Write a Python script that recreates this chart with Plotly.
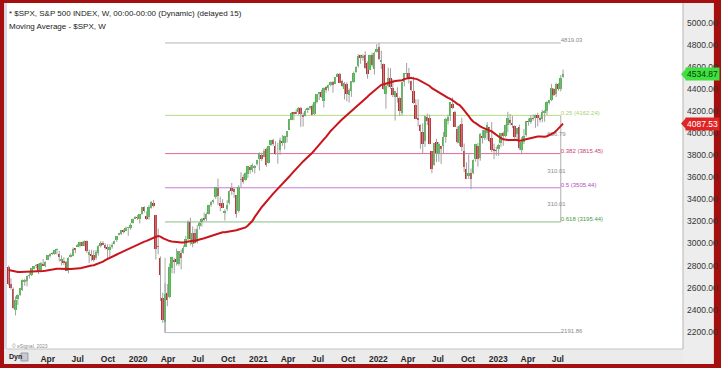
import numpy as np
import pandas as pd
import plotly.graph_objects as go

# ---------------- data (weekly S&P 500) ----------------
# closes before the visible window, used only to seed the 40-week moving average
pre_close = [2691, 2787, 2752, 2588, 2641, 2604, 2656, 2670, 2670, 2663, 2728, 2713, 2721, 2735,
             2779, 2779, 2755, 2718, 2760, 2801, 2802, 2819, 2840, 2833, 2850, 2875, 2902, 2872,
             2905, 2930, 2914, 2886, 2767, 2768, 2659, 2723, 2781, 2736, 2633, 2760]
pre_start = "2018-02-26"
start_week = "2018-12-03"

o_2018 = [2790, 2630, 2591, 2401]
h_2018 = [2800, 2685, 2601, 2520]
l_2018 = [2621, 2583, 2409, 2347]
c_2018 = [2633, 2600, 2417, 2486]

o_2019 = [2498, 2535, 2582, 2655, 2659, 2706, 2712, 2769, 2798, 2814, 2747, 2818, 2797, 2849, 2889, 2908,
          2904, 2941, 2909, 2841, 2841, 2831, 2751, 2885, 2887, 2952, 2971, 2979, 3012, 2981, 3024, 2898,
          2908, 2898, 2866, 2910, 2980, 2996, 2983, 2968, 2944, 2973, 2997, 3031, 3078, 3088, 3123, 3117,
          3143, 3141, 3183, 3227]
h_2019 = [2538, 2598, 2675, 2681, 2709, 2738, 2776, 2794, 2814, 2817, 2831, 2860, 2838, 2893, 2910, 2919,
          2940, 2955, 2932, 2892, 2875, 2841, 2876, 2911, 2964, 2955, 2996, 3017, 3018, 3028, 3028, 2945,
          2944, 2939, 2941, 2985, 3021, 3022, 3002, 2993, 2993, 3008, 3027, 3066, 3097, 3120, 3127, 3154,
          3150, 3183, 3226, 3248]
l_2019 = [2443, 2525, 2570, 2617, 2612, 2681, 2705, 2764, 2775, 2722, 2738, 2800, 2785, 2849, 2873, 2895,
          2898, 2901, 2836, 2801, 2805, 2751, 2729, 2874, 2883, 2912, 2970, 2964, 2975, 2976, 2914, 2822,
          2840, 2835, 2853, 2891, 2964, 2985, 2946, 2856, 2874, 2953, 2992, 3014, 3074, 3078, 3091, 3115,
          3070, 3124, 3180, 3227]
c_2019 = [2532, 2596, 2671, 2665, 2707, 2708, 2776, 2793, 2804, 2743, 2822, 2801, 2834, 2893, 2907, 2905,
          2940, 2946, 2881, 2860, 2826, 2752, 2873, 2887, 2950, 2942, 2990, 3014, 2977, 3026, 2932, 2919,
          2889, 2847, 2926, 2979, 3007, 2992, 2962, 2952, 2970, 2986, 3023, 3067, 3093, 3120, 3110, 3141,
          3146, 3169, 3221, 3240]

o_2020 = [3240, 3218, 3271, 3330, 3247, 3236, 3318, 3369, 3257, 2974, 2864, 2509, 2290, 2555, 2514, 2782,
          2846, 2855, 2815, 2915, 2910, 2970, 3038, 3199, 2999, 3094, 3018, 3155, 3192, 3225, 3219, 3268,
          3356, 3382, 3419, 3507, 3371, 3369, 3285, 3310, 3367, 3500, 3493, 3441, 3296, 3583, 3600, 3579,
          3634, 3698, 3666, 3684, 3724]
h_2020 = [3258, 3267, 3330, 3337, 3293, 3348, 3385, 3394, 3260, 3136, 2882, 2553, 2641, 2632, 2819, 2880,
          2868, 2954, 2934, 2945, 2981, 3068, 3211, 3233, 3155, 3135, 3166, 3198, 3233, 3280, 3280, 3352,
          3387, 3400, 3509, 3588, 3425, 3402, 3310, 3393, 3482, 3550, 3502, 3441, 3530, 3646, 3628, 3645,
          3699, 3712, 3726, 3712, 3760]
l_2020 = [3212, 3182, 3261, 3280, 3214, 3216, 3316, 3328, 2855, 2902, 2478, 2280, 2191.86, 2431, 2505, 2729,
          2727, 2800, 2798, 2766, 2909, 2969, 3026, 2984, 2965, 2999, 3001, 3127, 3152, 3201, 3205, 3263,
          3332, 3363, 3404, 3349, 3293, 3320, 3209, 3295, 3354, 3441, 3415, 3233, 3280, 3511, 3543, 3570,
          3594, 3633, 3647, 3636, 3707]
c_2020 = [3235, 3265, 3330, 3295, 3226, 3328, 3380, 3338, 2954, 2972, 2711, 2305, 2541, 2489, 2790, 2875,
          2837, 2831, 2930, 2864, 2955, 3044, 3194, 3041, 3098, 3009, 3130, 3185, 3225, 3216, 3271, 3351,
          3373, 3397, 3508, 3427, 3341, 3319, 3298, 3348, 3477, 3484, 3465, 3270, 3509, 3585, 3558, 3638,
          3699, 3663, 3709, 3703, 3756]

o_2021 = [3764, 3803, 3788, 3855, 3732, 3892, 3939, 3885, 3842, 3844, 3934, 3916, 3964, 4034, 4124, 4185,
          4185, 4192, 4228, 4169, 4158, 4216, 4229, 4248, 4174, 4285, 4356, 4372, 4297, 4416, 4407, 4437,
          4462, 4451, 4514, 4536, 4474, 4402, 4450, 4349, 4385, 4464, 4553, 4610, 4707, 4689, 4712, 4640,
          4572, 4710, 4587, 4733]
h_2021 = [3827, 3824, 3861, 3870, 3887, 3937, 3951, 3929, 3914, 3960, 3983, 3978, 4020, 4130, 4191, 4195,
          4218, 4238, 4238, 4187, 4220, 4234, 4249, 4262, 4287, 4356, 4372, 4394, 4415, 4429, 4441, 4469,
          4475, 4510, 4546, 4548, 4486, 4466, 4465, 4407, 4475, 4560, 4608, 4718, 4712, 4717, 4744, 4652,
          4713, 4731, 4740, 4808]
l_2021 = [3662, 3749, 3784, 3694, 3726, 3885, 3885, 3805, 3724, 3804, 3885, 3853, 3917, 4034, 4118, 4118,
          4175, 4169, 4056, 4061, 4152, 4184, 4210, 4165, 4165, 4271, 4301, 4322, 4233, 4367, 4383, 4425,
          4368, 4452, 4513, 4455, 4421, 4306, 4289, 4278, 4330, 4456, 4547, 4595, 4630, 4659, 4585, 4495,
          4572, 4600, 4532, 4733]
c_2021 = [3825, 3768, 3841, 3714, 3887, 3935, 3907, 3811, 3842, 3943, 3913, 3975, 4020, 4129, 4185, 4180,
          4181, 4233, 4174, 4156, 4204, 4230, 4247, 4166, 4281, 4352, 4370, 4327, 4412, 4395, 4437, 4468,
          4442, 4509, 4535, 4459, 4433, 4455, 4357, 4391, 4471, 4545, 4605, 4698, 4683, 4698, 4595, 4538,
          4712, 4621, 4726, 4766]

o_2022 = [4778, 4655, 4632, 4357, 4432, 4501, 4412, 4332, 4364, 4323, 4188, 4462, 4541, 4548, 4474, 4386,
          4253, 4130, 4076, 4013, 3928, 4149, 4134, 3838, 3715, 3920, 3815, 3880, 3883, 3966, 4113, 4153,
          4269, 4195, 4035, 3910, 4084, 3843, 3675, 3610, 3640, 3638, 3766, 3880, 3780, 3978, 3956, 4006,
          4053, 3954, 3853, 3843]
h_2022 = [4819.03, 4749, 4632, 4454, 4595, 4590, 4490, 4386, 4417, 4331, 4465, 4547, 4637, 4593, 4478, 4513,
          4309, 4308, 4081, 4090, 4158, 4178, 4169, 3838, 3913, 3950, 3919, 3880, 4012, 4140, 4168, 4280,
          4325, 4204, 4062, 4076, 4140, 3907, 3736, 3807, 3680, 3763, 3905, 3912, 4001, 4028, 4034, 4101,
          4053, 4101, 3906, 3878]
l_2022 = [4662, 4582, 4395, 4222, 4415, 4402, 4327, 4115, 4279, 4157, 4161, 4425, 4507, 4450, 4381, 4267,
          4128, 4062, 3859, 3811, 3876, 4074, 3900, 3637, 3706, 3740, 3742, 3722, 3818, 3913, 4079, 4113,
          4219, 4057, 3907, 3886, 3837, 3647, 3585, 3584, 3492, 3627, 3742, 3698, 3751, 3907, 3938, 3942,
          3919, 3828, 3765, 3796]
c_2022 = [4677, 4663, 4398, 4432, 4501, 4419, 4349, 4385, 4329, 4204, 4463, 4543, 4546, 4488, 4393, 4272,
          4132, 4123, 4024, 3901, 4158, 4109, 3901, 3675, 3912, 3825, 3899, 3863, 3962, 4130, 4145, 4280,
          4228, 4058, 3924, 4067, 3873, 3693, 3586, 3640, 3583, 3753, 3901, 3771, 3993, 3965, 4026, 4072,
          3934, 3852, 3845, 3840]

o_2023 = [3853, 3911, 3999, 3979, 4071, 4119, 4097, 4070, 3992, 4055, 3848, 3917, 3986, 4108, 4105, 4138,
          4134, 4167, 4136, 4127, 4191, 4205, 4283, 4300, 4404, 4354, 4450, 4404, 4506]
h_2023 = [3906, 4003, 4015, 4079, 4195, 4176, 4156, 4072, 4048, 4079, 3964, 4040, 4110, 4134, 4164, 4170,
          4171, 4186, 4155, 4212, 4213, 4291, 4299, 4448, 4409, 4458, 4456, 4528, 4578]
l_2023 = [3794, 3877, 3886, 3965, 4008, 4072, 4047, 3944, 3928, 3847, 3809, 3901, 3969, 4069, 4086, 4114,
          4049, 4062, 4099, 4099, 4104, 4167, 4261, 4292, 4337, 4328, 4385, 4380, 4503]
c_2023 = [3895, 3999, 3973, 4071, 4136, 4090, 4079, 3970, 4046, 3862, 3917, 3971, 4109, 4105, 4138, 4134,
          4169, 4136, 4124, 4192, 4205, 4282, 4299, 4410, 4348, 4450, 4399, 4505, 4534.87]

ma_period = 40

# Fibonacci retracement tool
fib_low = 2191.86
fib_high = 4819.03
fib_start = "2020-03-23"
fib_end = "2023-07-10"
fib_levels = [4162.24, 3815.45, 3505.44, 3195.44]
fib_names = ["0.25 (4162.24)", "0.382 (3815.45)", "0.5 (3505.44)", "0.618 (3195.44)"]
fib_colors = ["#b4de84", "#e2679a", "#c978dd", "#84bd84"]
fib_text_colors = ["#a6d468", "#c93e76", "#b04fc4", "#4a9a4a"]
fib_dist_vals = [3992, 3652, 3352]
fib_dist_text = ["656.79", "310.01", "310.01"]

# price tags on the axis
tag_vals = [4534.87, 4087.53]
tag_text = ["4534.87", "4087.53"]

tick_dates = ["2019-04-01", "2019-07-01", "2019-10-01", "2020-01-01", "2020-04-01", "2020-07-01",
              "2020-10-01", "2021-01-01", "2021-04-01", "2021-07-01", "2021-10-01", "2022-01-01",
              "2022-04-01", "2022-07-01", "2022-10-01", "2023-01-01", "2023-04-01", "2023-07-01"]
tick_text = ["Apr", "Jul", "Oct", "2020", "Apr", "Jul", "Oct", "2021", "Apr", "Jul", "Oct", "2022",
             "Apr", "Jul", "Oct", "2023", "Apr", "Jul"]

title_1 = "* $SPX, S&P 500 INDEX, W, 00:00-00:00 (Dynamic) (delayed 15)"
title_2 = "Moving Average - $SPX, W"

# ---------------- assemble ----------------
opens = np.array(o_2018 + o_2019 + o_2020 + o_2021 + o_2022 + o_2023, dtype=float)
highs = np.array(h_2018 + h_2019 + h_2020 + h_2021 + h_2022 + h_2023, dtype=float)
lows = np.array(l_2018 + l_2019 + l_2020 + l_2021 + l_2022 + l_2023, dtype=float)
closes = np.array(c_2018 + c_2019 + c_2020 + c_2021 + c_2022 + c_2023, dtype=float)
dates = pd.date_range(start_week, periods=len(closes), freq="7D")

ma_all = pd.Series(list(pre_close) + list(closes)).rolling(ma_period).mean().to_numpy()
ma = ma_all[len(pre_close):]

UP = "#3cc43c"
DOWN = "#c8282a"
body_base = np.minimum(opens, closes)
body_h = np.abs(closes - opens)
body_col = np.where(closes >= opens, UP, DOWN)

FONT = "Liberation Sans, Arial, sans-serif"

# pixel layout of the screenshot
W, H = 721, 368
PL, PR, PT, PB = 7, 685, 3, 349


def px_x(p):
    return (p - PL) / (PR - PL)


def px_y(p):
    return (PB - p) / (PB - PT)


fig = go.Figure()

# fib labels (under price layer)
fig.add_trace(go.Scatter(
    x=[fib_end] * 6, y=[fib_high + 18] + [v + 18 for v in fib_levels] + [fib_low + 8],
    text=["4819.03"] + fib_names + ["2191.86"], mode="text", textposition="middle right",
    textfont=dict(size=6, family=FONT, color=["#8a8a8a"] + fib_text_colors + ["#8a8a8a"]),
    hoverinfo="skip", showlegend=False))
fig.add_trace(go.Scatter(
    x=["2023-06-27"] * 3, y=fib_dist_vals, text=fib_dist_text, mode="text",
    textposition="middle center", textfont=dict(size=6, family=FONT, color="#8a8a8a"),
    hoverinfo="skip", showlegend=False))

# wicks
fig.add_trace(go.Ohlc(x=dates, open=opens, high=highs, low=lows, close=closes,
                      increasing=dict(line=dict(color="#a0a0a0", width=1)),
                      decreasing=dict(line=dict(color="#a0a0a0", width=1)),
                      tickwidth=0, hoverinfo="skip", showlegend=False))
# bodies
fig.add_trace(go.Bar(x=dates, y=body_h, base=body_base, width=6 * 86400000,
                     marker=dict(color=body_col, line=dict(width=0)),
                     hoverinfo="skip", showlegend=False))
# moving average
fig.add_trace(go.Scatter(x=dates, y=ma, mode="lines", line=dict(color="#c8151b", width=2),
                         hoverinfo="skip", showlegend=False))

shapes = []
# grey panels (axis areas)
shapes.append(dict(type="rect", xref="paper", yref="paper", x0=1, x1=px_x(716), y0=px_y(364), y1=1,
                   fillcolor="#ededed", line=dict(width=0), layer="below"))
shapes.append(dict(type="rect", xref="paper", yref="paper", x0=px_x(4), x1=1, y0=px_y(364), y1=0,
                   fillcolor="#ebebeb", line=dict(width=0), layer="below"))
shapes.append(dict(type="rect", xref="paper", yref="paper", x0=px_x(4), x1=0, y0=0, y1=1,
                   fillcolor="#d9d9e8", line=dict(width=0), layer="below"))
shapes.append(dict(type="line", xref="paper", yref="paper", x0=1, x1=1, y0=0, y1=1,
                   line=dict(color="#b5b5b5", width=1)))
shapes.append(dict(type="line", xref="paper", yref="paper", x0=0, x1=1, y0=0, y1=0,
                   line=dict(color="#c5c5c5", width=1)))
# fib lines
shapes.append(dict(type="line", xref="x", yref="y", x0=fib_start, x1=fib_end, y0=fib_high, y1=fib_high,
                   line=dict(color="#b5b5b5", width=1), layer="below"))
shapes.append(dict(type="line", xref="x", yref="y", x0=fib_start, x1=fib_end, y0=fib_low, y1=fib_low,
                   line=dict(color="#b5b5b5", width=1), layer="below"))
for v, col in zip(fib_levels, fib_colors):
    shapes.append(dict(type="line", xref="x", yref="y", x0=fib_start, x1=fib_end, y0=v, y1=v,
                       line=dict(color=col, width=1), layer="below"))
shapes.append(dict(type="line", xref="x", yref="y", x0=fib_end, x1=fib_end, y0=fib_levels[-1],
                   y1=fib_levels[0], line=dict(color="#b0b0b0", width=1), layer="below"))
shapes.append(dict(type="line", xref="x", yref="y", x0=fib_start, x1=fib_start, y0=fib_low,
                   y1=2870, line=dict(color="#b0b0b0", width=1), layer="below"))
# price tag arrows
tag_fill = ["#3fe03f", "#e02323"]
tag_font = ["#0b3d0b", "#ffffff"]
for v, fc in zip(tag_vals, tag_fill):
    d = 5.5 / 0.11025
    shapes.append(dict(type="path", xref="paper", yref="y",
                       path=f"M {px_x(683)},{v} L {px_x(688)},{v + d} L {px_x(688)},{v - d} Z",
                       fillcolor=fc, line=dict(width=0)))
# Dyn icon
shapes.append(dict(type="rect", xref="paper", yref="paper", x0=px_x(21), x1=px_x(28), y0=px_y(361),
                   y1=px_y(353), fillcolor="#c8c8d0", line=dict(color="#9a9aa8", width=1)))

annotations = [
    dict(text=title_1, xref="paper", yref="paper", x=px_x(7), y=px_y(14), xanchor="left",
         yanchor="middle", showarrow=False, font=dict(size=8, family=FONT, color="#1a1a1a")),
    dict(text=title_2, xref="paper", yref="paper", x=px_x(7), y=px_y(27), xanchor="left",
         yanchor="middle", showarrow=False, font=dict(size=8, family=FONT, color="#1a1a1a")),
    dict(text="© eSignal, 2023", xref="paper", yref="paper", x=px_x(10), y=px_y(346), xanchor="left",
         yanchor="middle", showarrow=False, font=dict(size=5, family=FONT, color="#8c8c8c")),
    dict(text="Dyn", xref="paper", yref="paper", x=px_x(7), y=px_y(357), xanchor="left",
         yanchor="middle", showarrow=False, font=dict(size=7, family=FONT, color="#222", weight="bold")),
]
for v, t, fc, tc in zip(tag_vals, tag_text, tag_fill, tag_font):
    annotations.append(dict(text=t, xref="paper", yref="y", x=px_x(687), y=v, xanchor="left",
                            yanchor="middle", showarrow=False, bgcolor=fc, borderpad=1,
                            font=dict(size=8.5, family=FONT, color=tc)))

slope = 0.11025
y_top = 5000 + (23 - PT) / slope
y_bot = 5000 - (PB - 23) / slope

fig.update_layout(
    width=W, height=H,
    margin=dict(l=PL, r=W - PR, t=PT, b=H - PB, pad=0),
    paper_bgcolor="#a50f10", plot_bgcolor="#ffffff",
    showlegend=False, bargap=0, shapes=shapes, annotations=annotations,
    xaxis=dict(type="date", range=["2018-11-28", "2024-07-16"], tickvals=tick_dates, ticktext=tick_text,
               showgrid=False, zeroline=False, showline=False, ticks="", rangeslider=dict(visible=False),
               tickfont=dict(size=8.5, family=FONT, color="#2a2a2a", weight="bold"), ticklabelstandoff=3),
    yaxis=dict(side="right", range=[y_bot, y_top], tick0=2200, dtick=200, tickformat=".2f",
               showgrid=False, zeroline=False, showline=False, ticks="", ticklabelstandoff=3,
               tickfont=dict(size=8.5, family=FONT, color="#333333")),
)

fig.write_html("out.html", config={"displayModeBar": False})
